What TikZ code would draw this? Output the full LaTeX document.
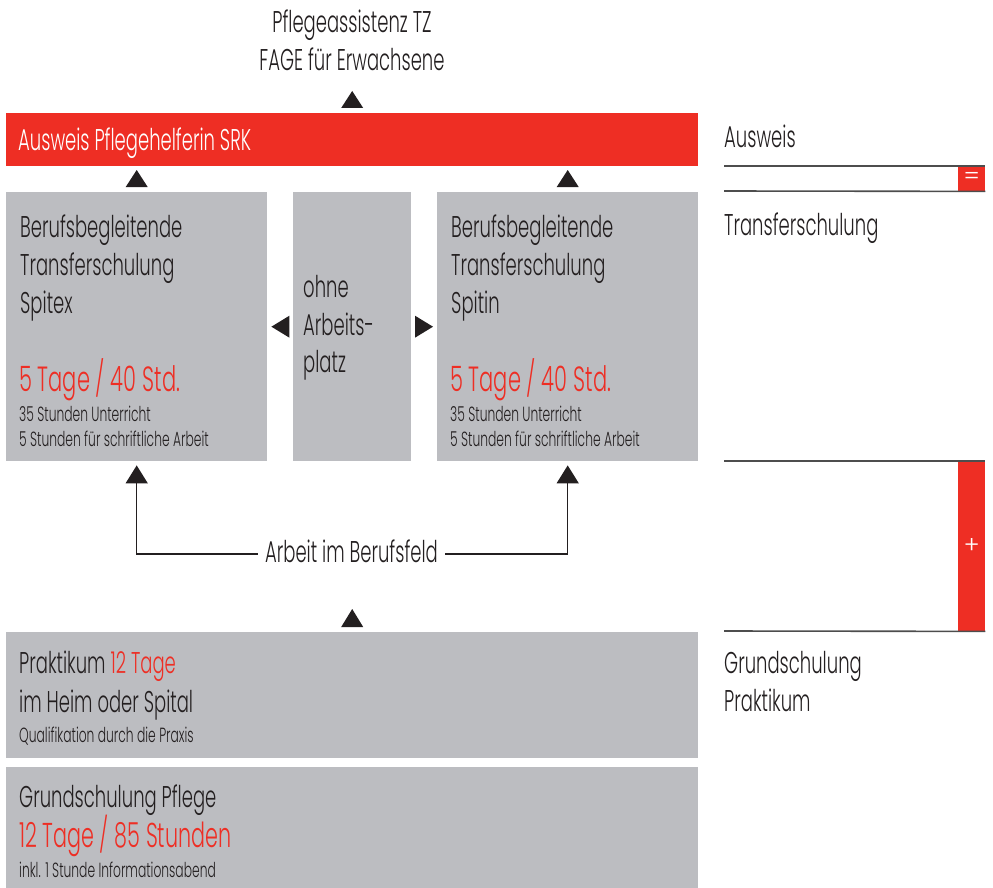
\documentclass[tikz,border=0pt]{standalone}
\usepackage{fontspec}
\setmainfont{Poppins Light}[FakeStretch=0.6]
\newfontfamily\symfont{Poppins Light}
\usetikzlibrary{arrows.meta,calc}
\definecolor{srkred}{HTML}{EE2E24}
\definecolor{boxgray}{HTML}{BCBDC1}
\definecolor{ink}{HTML}{231F20}
\definecolor{rulegray}{HTML}{4D4D4D}
\begin{document}
\begin{tikzpicture}[x=1pt,y=-1pt,
  panel/.style={fill=boxgray,draw=none,inner sep=0pt,anchor=north west},
  redpanel/.style={fill=srkred,draw=none,inner sep=0pt,anchor=north west},
  txt/.style={anchor=base west,inner sep=0pt,text=ink},
  mainf/.style={font=\fontsize{30}{38}\selectfont},
  redf/.style={font=\fontsize{35}{38}\selectfont,text=srkred},
  bigred/.style={font=\fontsize{34.5}{40}\selectfont,text=srkred},
  smallf/.style={font=\fontsize{20.5}{24}\selectfont},
  symf/.style={text=white,inner sep=0pt,font=\symfont\fontsize{24}{24}\selectfont},
  tri/.style={fill=ink,draw=none},
  conn/.style={draw=ink,line width=1.5pt,-{Triangle[width=22pt,length=18pt]}},
  rulel/.style={draw=rulegray,line width=1.6pt}
]
\useasboundingbox[fill=white] (0,0) rectangle (993,888);

% boxes
\node[redpanel,minimum width=692pt,minimum height=53pt] (srk) at (6,113) {};
\node[panel,minimum width=261pt,minimum height=269pt] (spitex) at (6,192) {};
\node[panel,minimum width=118pt,minimum height=269pt] (ohne) at (293,192) {};
\node[panel,minimum width=261pt,minimum height=269pt] (spitin) at (437,192) {};
\node[panel,minimum width=692pt,minimum height=126pt] (prakt) at (6,632) {};
\node[panel,minimum width=692pt,minimum height=121pt] (grund) at (6,767) {};

% title
\node[txt,mainf,anchor=base] (t1) at (352,33) {Pflegeassistenz TZ};
\node[txt,mainf,anchor=base] (t2) at (352,71) {FAGE für Erwachsene};

% red bar text
\node[txt,mainf,text=white] (srkt) at (18,150) {Ausweis Pflegehelferin SRK};

% left box
\node[txt,mainf] (l1) at (20,237) {Berufsbegleitende};
\node[txt,mainf] (l2) at (20,275) {Transferschulung};
\node[txt,mainf] (l3) at (20,313) {Spitex};
\node[txt,redf] (l4) at (19,391) {5 Tage / 40 Std.};
\node[txt,smallf] (l5) at (19,421) {35 Stunden Unterricht};
\node[txt,smallf] (l6) at (19,446) {5 Stunden für schriftliche Arbeit};

% middle box
\node[txt,mainf] (m1) at (303,297) {ohne};
\node[txt,mainf] (m2) at (303,335) {Arbeits-};
\node[txt,mainf] (m3) at (303,372) {platz};

% right box
\node[txt,mainf] (r1) at (451,237) {Berufsbegleitende};
\node[txt,mainf] (r2) at (451,275) {Transferschulung};
\node[txt,mainf] (r3) at (451,313) {Spitin};
\node[txt,redf] (r4) at (450,391) {5 Tage / 40 Std.};
\node[txt,smallf] (r5) at (450,421) {35 Stunden Unterricht};
\node[txt,smallf] (r6) at (450,446) {5 Stunden für schriftliche Arbeit};

% Arbeit im Berufsfeld
\node[txt,mainf,anchor=base,inner xsep=7pt] (arb) at (351.5,562) {Arbeit im Berufsfeld};
\draw[conn] (arb.west |- 0,554) -| ($(spitex.south)+(0,4)$);
\draw[conn] (arb.east |- 0,554) -| ($(spitin.south)+(0,4)$);

% Praktikum
\node[txt,mainf] (p1) at (19,673) {Praktikum \textcolor{srkred}{12 Tage}};
\node[txt,mainf] (p2) at (19,712) {im Heim oder Spital};
\node[txt,smallf] (p3) at (19,742) {Qualifikation durch die Praxis};

% Grundschulung
\node[txt,mainf] (g1) at (19,807) {Grundschulung Pflege};
\node[txt,bigred] (g2) at (19,847) {12 Tage / 85 Stunden};
\node[txt,smallf] (g3) at (19,877) {inkl. 1 Stunde Informationsabend};

% triangles
\fill[tri] ($(srk.north)+(-11,-5)$) -- ++(22,0) -- ++(-11,-17) -- cycle;
\fill[tri] ($(spitex.north)+(-11,-5)$) -- ++(22,0) -- ++(-11,-17) -- cycle;
\fill[tri] ($(spitin.north)+(-11,-5)$) -- ++(22,0) -- ++(-11,-17) -- cycle;
\fill[tri] ($(prakt.north)+(-11,-5)$) -- ++(22,0) -- ++(-11,-18) -- cycle;
\fill[tri] ($(spitex.east)+(4,0)$) -- ++(18,-11) -- ++(0,22) -- cycle;
\fill[tri] ($(spitin.west)+(-4,0)$) -- ++(-18,-11) -- ++(0,22) -- cycle;

% right column
\node[txt,mainf] (k1) at (724,148) {Ausweis};
\node[redpanel,minimum width=27pt,minimum height=25pt] (eq) at (958,166) {};
\node[symf] (eqs) at (eq.center) {=};
\draw[rulel] (724,166) -- (eq.north east);
\draw[rulel] (724,191) -- (eq.south east);
\node[txt,mainf] (k2) at (724,235) {Transferschulung};

\node[redpanel,minimum width=27pt,minimum height=170pt] (plus) at (958,461) {};
\node[symf] (pls) at (plus.center) {+};
\draw[rulel] (724,461) -- (plus.north east);
\draw[rulel] (724,631) -- (plus.south east);
\node[txt,mainf] (k3) at (724,673) {Grundschulung};
\node[txt,mainf] (k4) at (724,711) {Praktikum};
\end{tikzpicture}
\end{document}
